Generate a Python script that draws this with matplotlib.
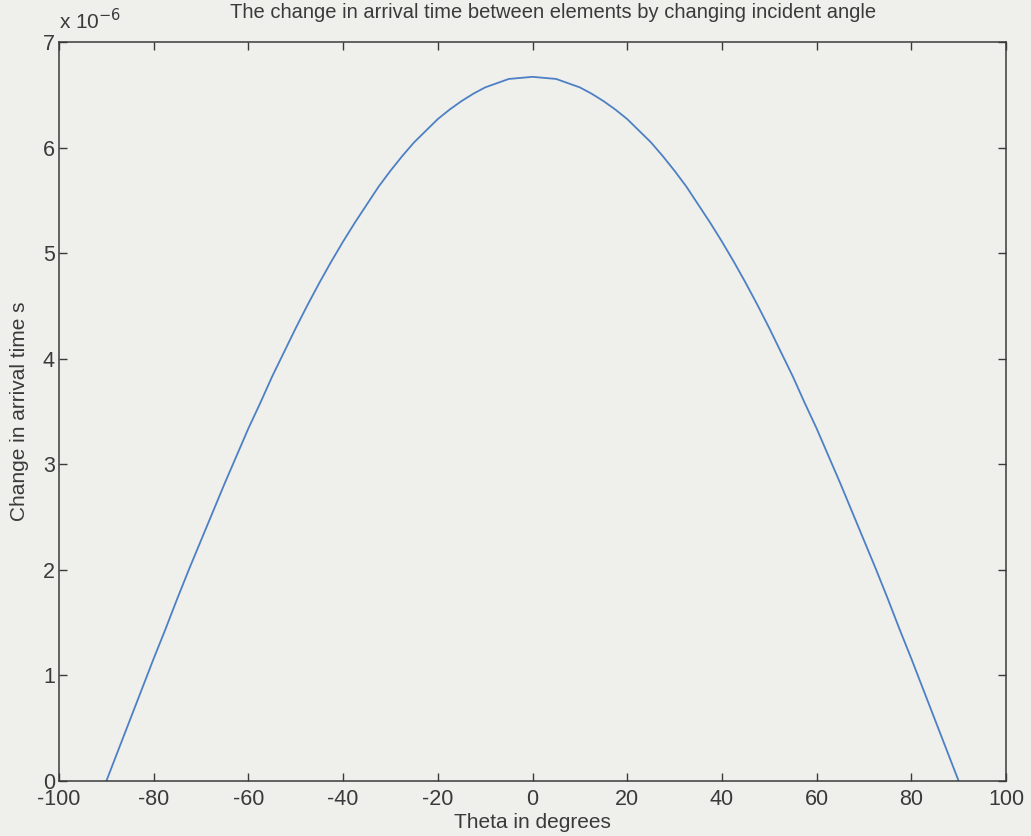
import matplotlib.pyplot as plt

plt.rcParams['font.family'] = ['Liberation Sans', 'DejaVu Sans']
plt.rcParams['axes.unicode_minus'] = False

# incident angle (deg) and change in arrival time (units of 1e-6 s)
theta = [-90, -87.5, -85, -82.5, -80, -77.5, -75, -72.5, -70, -67.5, -65, -62.5, -60, -57.5, -55, -52.5,
         -50, -47.5, -45, -42.5, -40, -37.5, -35, -32.5, -30, -27.5, -25, -22.5, -20, -17.5, -15, -12.5,
         -10, -7.5, -5, -2.5, 0, 2.5, 5, 7.5, 10, 12.5, 15, 17.5, 20, 22.5, 25, 27.5, 30, 32.5, 35, 37.5,
         40, 42.5, 45, 47.5, 50, 52.5, 55, 57.5, 60, 62.5, 65, 67.5, 70, 72.5, 75, 77.5, 80, 82.5, 85, 87.5, 90]
dt = [0.0, 0.29, 0.58, 0.87, 1.16, 1.44, 1.73, 2.01, 2.28, 2.55, 2.82, 3.08, 3.34, 3.58, 3.83, 4.06,
      4.29, 4.51, 4.72, 4.92, 5.11, 5.29, 5.46, 5.63, 5.78, 5.92, 6.05, 6.16, 6.27, 6.36, 6.44, 6.51,
      6.57, 6.61, 6.65, 6.66, 6.67, 6.66, 6.65, 6.61, 6.57, 6.51, 6.44, 6.36, 6.27, 6.16, 6.05, 5.92,
      5.78, 5.63, 5.46, 5.29, 5.11, 4.92, 4.72, 4.51, 4.29, 4.06, 3.83, 3.58, 3.34, 3.08, 2.82, 2.55,
      2.28, 2.01, 1.73, 1.44, 1.16, 0.87, 0.58, 0.29, 0.0]
xticks = list(range(-100, 101, 20))
yticks = list(range(0, 8))

bg = '#efefec'
ink = '#3a3a3a'

fig = plt.figure(figsize=(10.31, 8.36), dpi=100, facecolor=bg)
ax = fig.add_axes([59 / 1031, 1 - 781 / 836, (1006 - 59) / 1031, (781 - 42) / 836])
ax.set_facecolor(bg)

ax.plot(theta, dt, color='#4d80c4', lw=1.3)

ax.set_xlim(-100, 100)
ax.set_ylim(0, 7)
ax.set_xticks(xticks)
ax.set_yticks(yticks)
ax.tick_params(direction='in', length=6, width=1, colors=ink, labelsize=15.5,
               top=True, right=True)
ax.tick_params(axis='x', pad=6)
ax.tick_params(axis='y', pad=3)
for s in ax.spines.values():
    s.set_color(ink)
    s.set_linewidth(1.1)

ax.set_title('The change in arrival time between elements by changing incident angle',
             fontsize=14.5, color=ink, pad=17, x=0.522)
ax.set_xlabel('Theta in degrees', fontsize=15, color=ink, labelpad=2)
ax.set_ylabel('Change in arrival time s', fontsize=15, color=ink, labelpad=10)
ax.text(0.0, 1.012, r'x 10$^{-6}$', transform=ax.transAxes, fontsize=15, color=ink,
        ha='left', va='bottom')

fig.savefig('out.png', dpi=100, facecolor=bg)
